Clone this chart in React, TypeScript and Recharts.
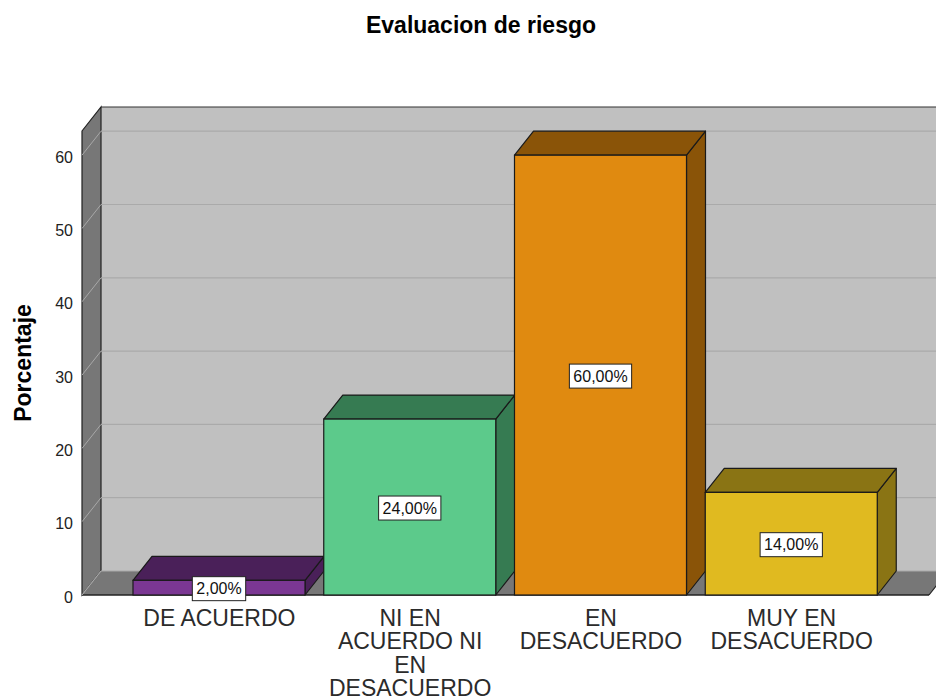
import { BarChart, Bar, XAxis, YAxis, ReferenceArea, ReferenceLine, LabelList, Label } from "recharts";

const categories = ["DE ACUERDO", "NI EN ACUERDO NI EN DESACUERDO", "EN DESACUERDO", "MUY EN DESACUERDO"];
const tickLines = [["DE ACUERDO"], ["NI EN", "ACUERDO NI", "EN", "DESACUERDO"], ["EN", "DESACUERDO"], ["MUY EN", "DESACUERDO"]];
const percentages = [2, 24, 60, 14];
const yTicks = [0, 10, 20, 30, 40, 50, 60];
const frontColors = ["#7b3793", "#5cca8b", "#e08a10", "#e0ba20"];
const sideColors = ["#4a2059", "#367b52", "#8a5408", "#8a7414"];

const rows = categories.map((name, i) => ({ name, value: percentages[i] }));

// depth of the fake 3d box
const DX = 19;
const DY = 24;
const Y_MAX = 63.3;
const PAD = 42; // x axis padding, the walls cover it too
const FONT = '"Liberation Sans", Arial, sans-serif';

const fmt = (v: number) => v.toFixed(2).replace(".", ",") + "%";

let ctx: CanvasRenderingContext2D | null = null;
const measure = (s: string) => {
  if (!ctx) ctx = document.createElement("canvas").getContext("2d");
  if (!ctx) return s.length * 9;
  ctx.font = `16px ${FONT}`;
  return ctx.measureText(s).width;
};

function Walls(props: any) {
  const { y, height: h } = props;
  const x = props.x - PAD;
  const w = props.width + 2 * PAD;
  const b = y + h;
  return (
    <g>
      <rect x={x + DX} y={y - DY} width={w + 40} height={h} fill="#c0c0c0" />
      <line x1={x + DX} y1={y - DY} x2={x + w + 60} y2={y - DY} stroke="#333" strokeWidth={1.2} />
      <polygon
        points={`${x},${y} ${x + DX},${y - DY} ${x + DX},${b - DY} ${x},${b}`}
        fill="#777"
        stroke="#222"
        strokeWidth={1.2}
      />
      <polygon
        points={`${x},${b} ${x + DX},${b - DY} ${x + w + DX},${b - DY} ${x + w},${b}`}
        fill="#777"
      />
      <line x1={x} y1={b} x2={x + w} y2={b} stroke="#222" strokeWidth={1.4} />
      <line x1={x + w} y1={b} x2={x + w + DX} y2={b - DY} stroke="#222" strokeWidth={1.2} />
      <line x1={x} y1={b} x2={x + DX} y2={b - DY} stroke="#999" strokeWidth={1} />
    </g>
  );
}

function GridLine(props: any) {
  const { x1, y1, x2, y2 } = props;
  if (x1 == null) return null;
  return (
    <g>
      <line x1={x1 + DX} y1={y1 - DY} x2={x2 + DX + 40} y2={y2 - DY} stroke="#aaa" strokeWidth={1.2} />
      <line x1={x1} y1={y1} x2={x1 + DX} y2={y1 - DY} stroke="#a8a8a8" strokeWidth={1} />
    </g>
  );
}

function Box3D(props: any) {
  const { x, y, width: w, height: h, index } = props;
  if (h == null || w == null) return null;
  const side = sideColors[index];
  const stroke = "#1a1a1a";
  return (
    <g>
      <polygon
        points={`${x + w},${y} ${x + w + DX},${y - DY} ${x + w + DX},${y + h - DY} ${x + w},${y + h}`}
        fill={side}
        stroke={stroke}
        strokeWidth={1.2}
        strokeLinejoin="round"
      />
      <polygon
        points={`${x},${y} ${x + DX},${y - DY} ${x + w + DX},${y - DY} ${x + w},${y}`}
        fill={side}
        stroke={stroke}
        strokeWidth={1.2}
        strokeLinejoin="round"
      />
      <rect x={x} y={y} width={w} height={h} fill={frontColors[index]} stroke={stroke} strokeWidth={1.2} />
    </g>
  );
}

function ValueLabel(props: any) {
  const vb = props.viewBox ?? props;
  const { x, y, width, height } = vb;
  if (x == null) return null;
  const text = fmt(Number(props.value));
  const tw = measure(text);
  const cx = x + width / 2;
  const cy = y + height / 2 + 1;
  return (
    <g>
      <rect x={cx - tw / 2 - 4} y={cy - 12} width={tw + 8} height={24} fill="#fff" stroke="#222" strokeWidth={1} />
      <text x={cx} y={cy + 5.5} textAnchor="middle" fontSize={16} fontFamily={FONT} fill="#111">
        {text}
      </text>
    </g>
  );
}

function XTick(props: any) {
  const { x, y, payload } = props;
  const lines = tickLines[payload.index] ?? [payload.value];
  return (
    <text x={x} y={y} textAnchor="middle" fontSize={23} fontFamily={FONT} fill="#2b2b2b">
      {lines.map((l, i) => (
        <tspan key={i} x={x} y={y + 31 + i * 23.4}>
          {l}
        </tspan>
      ))}
    </text>
  );
}

function YTick(props: any) {
  const { x, y, payload } = props;
  return (
    <text x={x} y={y + 7.5} textAnchor="end" fontSize={16} fontFamily={FONT} fill="#222">
      {payload.value}
    </text>
  );
}

function YTitle(props: any) {
  const vb = props.viewBox;
  const cx = 31;
  const cy = vb.y + vb.height / 2;
  return (
    <text
      x={cx}
      y={cy}
      transform={`rotate(-90 ${cx} ${cy})`}
      textAnchor="middle"
      fontSize={23}
      fontWeight="bold"
      fontFamily={FONT}
      fill="#000"
    >
      Porcentaje
    </text>
  );
}

export default function App() {
  return (
    <div style={{ position: "absolute", left: 0, top: 0, width: 936, height: 699, background: "#fff", fontFamily: FONT }}>
      <div
        style={{
          position: "absolute",
          left: 481,
          top: 14,
          transform: "translateX(-50%)",
          whiteSpace: "nowrap",
          fontSize: 23,
          lineHeight: "23px",
          fontWeight: "bold",
          color: "#000",
        }}
      >
        Evaluacion de riesgo
      </div>
      <BarChart width={936} height={699} data={rows} margin={{ top: 131, right: 7, bottom: 14, left: 12 }}>
        <XAxis
          dataKey="name"
          height={90}
          axisLine={false}
          tickLine={false}
          tickSize={0}
          tickMargin={0}
          interval={0}
          padding={{ left: PAD, right: PAD }}
          tick={<XTick />}
        />
        <YAxis
          width={70}
          domain={[0, Y_MAX]}
          ticks={yTicks}
          axisLine={false}
          tickLine={false}
          tickSize={0}
          tickMargin={9}
          tick={<YTick />}
        >
          <Label content={<YTitle />} />
        </YAxis>
        <ReferenceArea y1={0} y2={Y_MAX} ifOverflow="visible" shape={<Walls />} zIndex={-200} />
        {yTicks.map((t) => (
          <ReferenceLine key={t} y={t} shape={<GridLine />} zIndex={-150} />
        ))}
        <Bar dataKey="value" barSize={172} isAnimationActive={false} shape={<Box3D />}>
          <LabelList dataKey="value" content={<ValueLabel />} />
        </Bar>
      </BarChart>
    </div>
  );
}
